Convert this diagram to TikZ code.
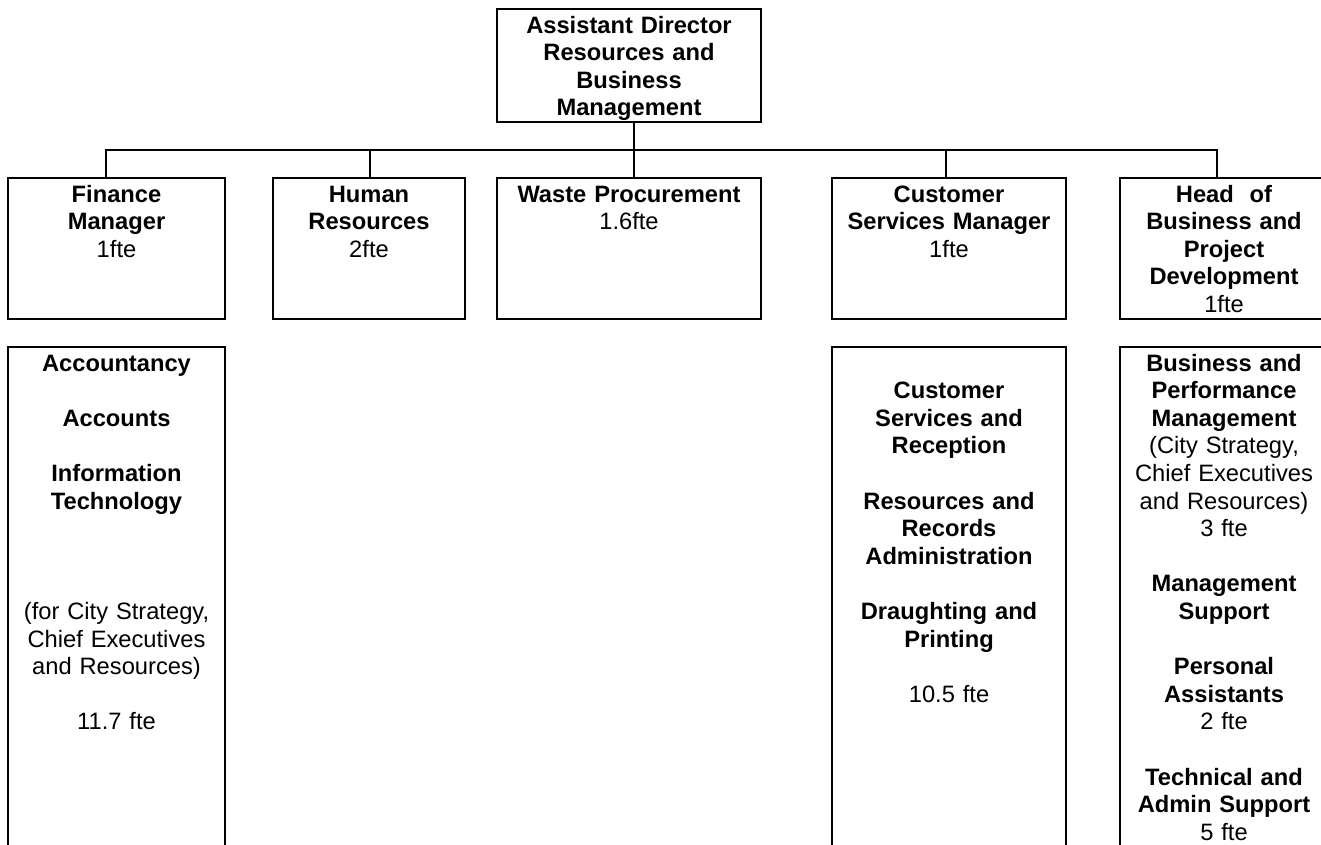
\documentclass[tikz,border=0pt]{standalone}
\usepackage{fontspec}
\setmainfont{Liberation Sans}
\begin{document}
\begin{tikzpicture}[x=1pt,y=-1pt,
  box/.style={draw,line width=2pt,inner sep=0pt,outer sep=0pt,anchor=north west},
  lbl/.style={anchor=north,inner sep=0pt,outer sep=0pt,text width=262pt,align=center,font=\fontsize{23.7}{27.6}\selectfont},
  conn/.style={line width=2pt}]
\useasboundingbox (0,0) rectangle (1321,844);
\fill[white] (0,0) rectangle (1321,844);
\clip (0,0) rectangle (1321,844);
% boxes
\node[box,minimum width=264pt,minimum height=113pt] (ad) at (497,9) {};
\node[box,minimum width=217pt,minimum height=141pt] (fin) at (8,178) {};
\node[box,minimum width=192pt,minimum height=141pt] (hr) at (273,178) {};
\node[box,minimum width=264pt,minimum height=141pt] (wp) at (497,178) {};
\node[box,minimum width=234pt,minimum height=141pt] (cs) at (832,178) {};
\node[box,minimum width=208pt,minimum height=141pt] (hb) at (1120,178) {};
\node[box,minimum width=217pt,minimum height=560pt] (fins) at (8,347) {};
\node[box,minimum width=234pt,minimum height=560pt] (css) at (832,347) {};
\node[box,minimum width=208pt,minimum height=560pt] (hbs) at (1120,347) {};
% texts
\node[lbl] (adt) at ([yshift=-4.7pt]ad.north) {\strut\textbf{Assistant Director\\Resources and\\Business\\Management}};
\node[lbl] (fint) at ([yshift=-4.7pt]fin.north) {\strut\textbf{Finance\\Manager}\\1fte};
\node[lbl] (hrt) at ([yshift=-4.7pt]hr.north) {\strut\textbf{Human\\Resources}\\2fte};
\node[lbl] (wpt) at ([yshift=-4.7pt]wp.north) {\strut\textbf{Waste Procurement}\\1.6fte};
\node[lbl] (cst) at ([yshift=-4.7pt]cs.north) {\strut\textbf{Customer\\Services Manager}\\1fte};
\node[lbl] (hbt) at ([yshift=-4.7pt]hb.north) {\strut\textbf{Head\ \ of\\Business and\\Project\\Development}\\1fte};
\node[lbl] (finst) at ([yshift=-4.7pt]fins.north) {\strut\textbf{Accountancy\\~\\Accounts\\~\\Information\\Technology}\\~\\~\\~\\(for City Strategy,\\Chief Executives\\and Resources)\\~\\11.7 fte};
\node[lbl] (csst) at ([yshift=-4.7pt]css.north) {\strut~\\\textbf{Customer\\Services and\\Reception\\~\\Resources and\\Records\\Administration\\~\\Draughting and\\Printing}\\~\\10.5 fte};
\node[lbl] (hbst) at ([yshift=-4.7pt]hbs.north) {\strut\textbf{Business and\\Performance\\Management}\\(City Strategy,\\Chief Executives\\and Resources)\\3 fte\\~\\\textbf{Management\\Support}\\~\\\textbf{Personal\\Assistants}\\2 fte\\~\\\textbf{Technical and\\Admin Support}\\5 fte};
% connectors
\coordinate (jn) at (634,150);
\draw[conn] ([xshift=5pt]ad.south) -- ([xshift=5pt]wp.north);
\draw[conn] ([xshift=-10.5pt]fin.north) |- (jn);
\draw[conn] ([xshift=-7pt]hb.north) |- (jn);
\draw[conn] ([xshift=1pt]hr.north) -- ([xshift=1pt]hr.north |- jn);
\draw[conn] ([xshift=-3pt]cs.north) -- ([xshift=-3pt]cs.north |- jn);
\end{tikzpicture}
\end{document}
